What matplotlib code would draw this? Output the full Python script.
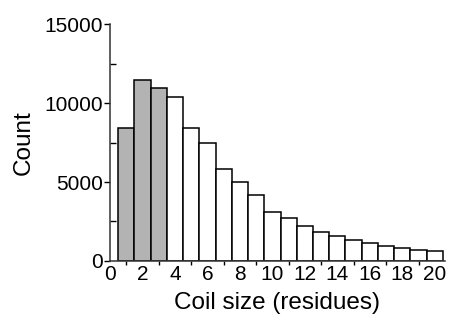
import numpy as np
import matplotlib
matplotlib.use('Agg')
import matplotlib.pyplot as plt
from matplotlib.ticker import MultipleLocator

plt.rcParams['font.family'] = ['Liberation Sans', 'DejaVu Sans']

sizes = np.arange(1, 21)
counts = [8420, 11450, 10970, 10400, 8420, 7500, 5830, 5020, 4200, 3100,
          2690, 2220, 1835, 1580, 1350, 1135, 945, 840, 715, 650]
n_short = 3   # short coils drawn in gray

colors = ['#b3b3b3' if s <= n_short else 'white' for s in sizes]

fig = plt.figure(figsize=(4.49, 3.21), dpi=100)
ax = fig.add_axes([0.245, 0.187, 0.745, 0.738])

ax.bar(sizes, counts, width=1.0, color=colors, edgecolor='black', linewidth=1.1)

ax.set_xlim(0, 20.6)
ax.set_ylim(0, 15000)
ax.xaxis.set_major_locator(MultipleLocator(2))
ax.xaxis.set_minor_locator(MultipleLocator(1))
ax.yaxis.set_major_locator(MultipleLocator(5000))
ax.yaxis.set_minor_locator(MultipleLocator(2500))

for side in ['top', 'right']:
    ax.spines[side].set_visible(False)
for side in ['left', 'bottom']:
    ax.spines[side].set_linewidth(1.1)
    ax.spines[side].set_color('#333333')

ax.tick_params(axis='y', which='major', direction='out', length=4, width=1,
               labelsize=15, pad=1)
ax.tick_params(axis='y', which='minor', direction='in', length=4, width=1)
ax.tick_params(axis='x', which='major', direction='in', length=0,
               labelsize=15, pad=3)
ax.tick_params(axis='x', which='minor', direction='out', length=3, width=1)

ax.set_xlabel('Coil size (residues)', fontsize=17.5, labelpad=6)
ax.set_ylabel('Count', fontsize=17.5, labelpad=7)

fig.savefig('out.png', dpi=100)
